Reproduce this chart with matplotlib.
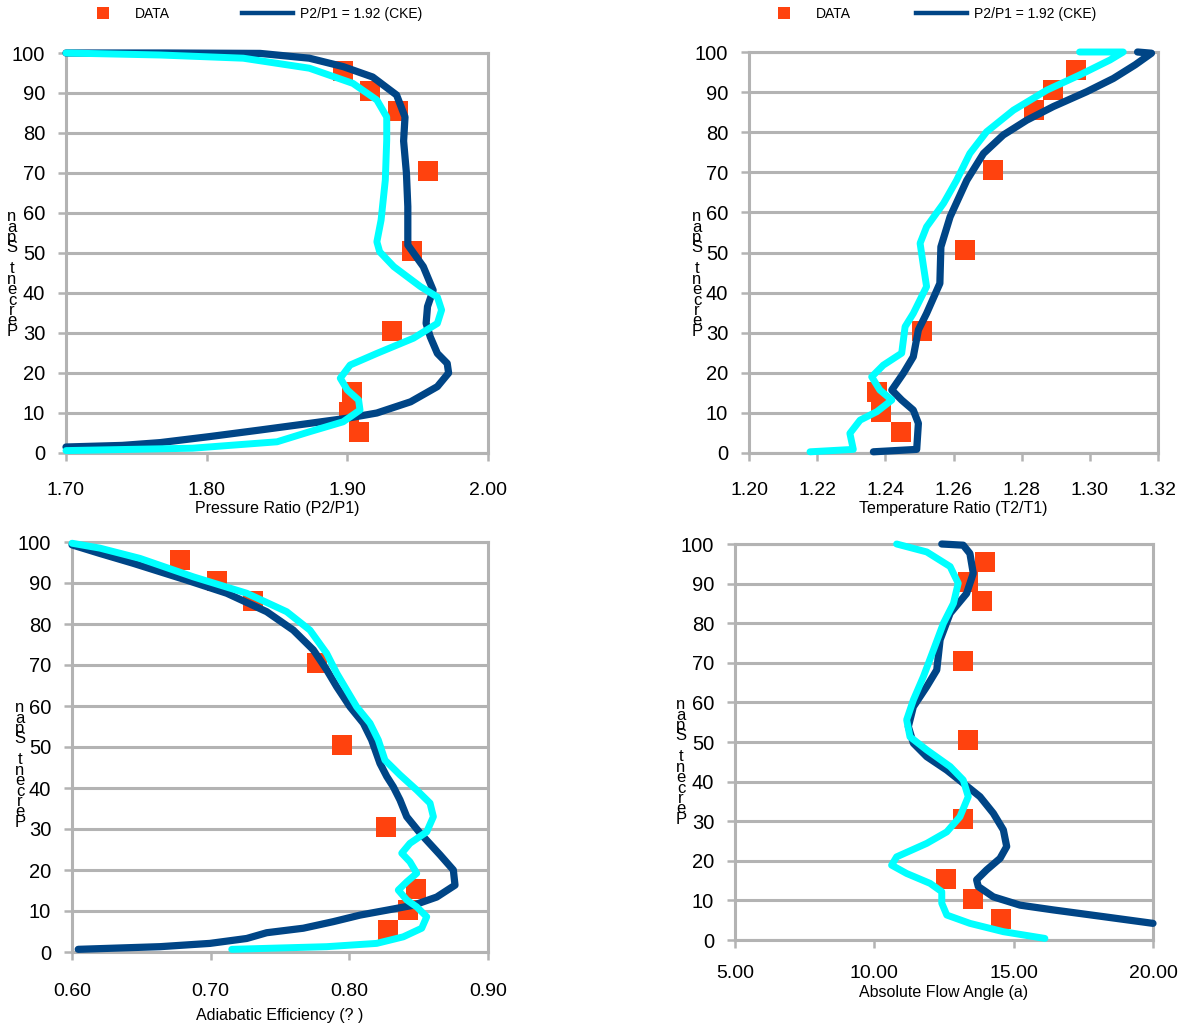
import matplotlib
matplotlib.use("Agg")
import matplotlib.pyplot as plt
from matplotlib.lines import Line2D

plt.rcParams['font.family'] = ['Liberation Sans', 'DejaVu Sans']

W, H = 1187, 1023
DARK = '#004586'
CYAN = '#00FFFF'
ORANGE = '#FF420E'
GRAY = '#b3b3b3'

# measured span of the data points (percent span)
span_data = [95.5, 90.5, 85.5, 70.5, 50.5, 30.5, 15.3, 10.3, 5.3]

# ---- pressure ratio ----
pr_data = [1.897, 1.916, 1.936, 1.957, 1.946, 1.932, 1.903, 1.901, 1.908]
pr_dark_x = [1.700, 1.740, 1.767, 1.802, 1.838, 1.873, 1.900, 1.921, 1.945, 1.964, 1.972, 1.971,
             1.964, 1.959, 1.956, 1.957, 1.961, 1.954, 1.943, 1.943, 1.942, 1.940, 1.941,
             1.935, 1.918, 1.897, 1.873, 1.838, 1.770, 1.700]
pr_dark_y = [1.5, 1.9, 2.6, 4.1, 5.75, 7.4, 8.7, 10.0, 12.8, 16.6, 20.0, 22.4,
             24.9, 29.0, 32.4, 36.6, 40.7, 46.6, 52.0, 61.6, 70.0, 78.0, 84.0,
             89.5, 94.0, 96.6, 98.7, 99.9, 100.0, 100.0]
pr_cyan_x = [1.700, 1.790, 1.850, 1.873, 1.897, 1.909, 1.908, 1.900, 1.895, 1.902, 1.921,
             1.947, 1.964, 1.967, 1.964, 1.952, 1.933, 1.923, 1.921, 1.924, 1.927, 1.928,
             1.928, 1.921, 1.904, 1.873, 1.826, 1.767, 1.700]
pr_cyan_y = [0.6, 1.2, 2.8, 5.3, 7.8, 10.75, 13.25, 15.75, 18.7, 22.0, 24.9,
             28.7, 32.4, 35.75, 39.0, 41.6, 46.6, 50.3, 52.8, 58.25, 68.25, 78.25,
             84.0, 88.25, 92.4, 96.2, 98.7, 99.5, 100.0]

# ---- temperature ratio ----
tr_data = [1.2959, 1.2893, 1.2835, 1.2717, 1.2634, 1.2507, 1.2377, 1.2387, 1.2446]
tr_dark_x = [1.2365, 1.2492, 1.2497, 1.2482, 1.2448, 1.2419, 1.2453, 1.2482, 1.2497, 1.2521,
             1.2560, 1.2563, 1.2590, 1.2639, 1.2688, 1.2746, 1.2815, 1.2893, 1.2991, 1.3069,
             1.3133, 1.3181, 1.3140]
tr_dark_y = [0.3, 0.9, 7.4, 10.7, 13.2, 15.7, 19.9, 24.0, 30.7, 34.8,
             42.3, 51.4, 58.9, 68.0, 74.7, 79.3, 83.0, 86.4, 90.1, 93.4,
             96.8, 99.7, 100.0]
tr_cyan_x = [1.2179, 1.2306, 1.2296, 1.2326, 1.2375, 1.2419, 1.2384, 1.2360, 1.2394, 1.2448,
             1.2458, 1.2482, 1.2521, 1.2512, 1.2502, 1.2521, 1.2571, 1.2609, 1.2648, 1.2697,
             1.2776, 1.2874, 1.2971, 1.3059, 1.3098, 1.2970]
tr_cyan_y = [0.3, 0.9, 4.9, 8.2, 10.3, 13.2, 15.7, 19.0, 21.9, 24.9,
             31.5, 34.8, 41.5, 46.5, 52.3, 56.4, 62.3, 68.0, 74.7, 80.1,
             85.5, 90.5, 94.3, 98.0, 100.0, 100.0]

# ---- adiabatic efficiency ----
ae_data = [0.6779, 0.7043, 0.7308, 0.7765, 0.7945, 0.8264, 0.8481, 0.8425, 0.8281]
ae_dark_x = [0.6045, 0.6635, 0.6995, 0.7260, 0.7404, 0.7668, 0.7884, 0.8077, 0.8270, 0.8461,
             0.8630, 0.8762, 0.8750, 0.8654, 0.8510, 0.8414, 0.8365, 0.8317, 0.8270, 0.8221,
             0.8161, 0.8101, 0.8005, 0.7909, 0.7837, 0.7740, 0.7596, 0.7404, 0.7116, 0.6827,
             0.6442, 0.6202, 0.6000]
ae_dark_y = [0.65, 1.3, 2.1, 3.3, 4.7, 5.8, 7.4, 9.0, 10.2, 11.4,
             13.4, 16.3, 20.0, 23.7, 29.0, 33.0, 37.1, 40.3, 42.8, 46.0,
             51.7, 55.8, 59.8, 64.7, 68.8, 73.7, 78.5, 83.0, 87.5, 90.7,
             94.8, 97.2, 99.3]
ae_cyan_x = [0.7152, 0.7837, 0.8197, 0.8389, 0.8522, 0.8558, 0.8486, 0.8414, 0.8353, 0.8414,
             0.8486, 0.8437, 0.8378, 0.8437, 0.8558, 0.8606, 0.8582, 0.8486, 0.8365, 0.8257,
             0.8209, 0.8149, 0.8053, 0.7981, 0.7909, 0.7837, 0.7716, 0.7548, 0.7260, 0.6875,
             0.6490, 0.6202, 0.6000]
ae_cyan_y = [0.65, 1.3, 2.1, 3.7, 5.8, 8.6, 11.0, 12.7, 15.1, 17.1,
             19.2, 22.0, 24.1, 26.5, 29.3, 33.0, 36.3, 39.5, 43.2, 46.8,
             51.7, 55.8, 59.8, 63.9, 68.0, 72.8, 78.5, 83.0, 87.5, 91.5,
             96.0, 98.5, 99.7]

# ---- absolute flow angle ----
fa_data = [13.97, 13.37, 13.85, 13.17, 13.35, 13.17, 12.57, 13.55, 14.55]
fa_dark_x = [20.00, 18.22, 16.42, 15.23, 14.27, 13.73, 13.67, 14.03, 14.51, 14.75,
             14.63, 14.27, 13.79, 13.19, 12.60, 11.88, 11.40, 11.22, 11.40, 11.88,
             12.24, 12.36, 12.72, 13.31, 13.55, 13.43, 13.19, 12.42]
fa_dark_y = [4.2, 5.9, 7.6, 8.8, 10.9, 13.5, 15.2, 17.7, 20.6, 23.6,
             27.8, 32.0, 36.2, 39.6, 42.9, 46.3, 49.7, 53.9, 58.9, 64.0,
             68.2, 75.8, 82.5, 87.5, 92.6, 97.6, 99.7, 100.0]
fa_cyan_x = [16.12, 14.63, 13.43, 12.60, 12.42, 12.42, 12.00, 11.16, 10.62, 10.80,
             11.88, 12.60, 13.07, 13.37, 13.19, 12.72, 11.88, 11.28, 11.16, 11.40,
             11.76, 12.12, 12.48, 12.84, 13.01, 12.72, 11.88, 10.80]
fa_cyan_y = [0.4, 2.1, 4.2, 6.3, 9.3, 12.2, 14.3, 16.8, 18.9, 21.0,
             24.4, 27.3, 31.1, 36.2, 40.4, 43.8, 48.0, 51.3, 55.6, 60.6,
             66.5, 73.2, 80.0, 85.0, 90.1, 94.3, 98.0, 100.0]

panels = [
    # box in pixels: left, right, top, bottom
    dict(box=(66, 488, 53, 453), xlim=(1.70, 2.00), xt=[1.70, 1.80, 1.90, 2.00],
         xlabel='Pressure Ratio (P2/P1)', data=pr_data,
         dark=(pr_dark_x, pr_dark_y), cyan=(pr_cyan_x, pr_cyan_y),
         ylab=(12, 274), leg=(77, 14, 5.2), xpad=(15, 1)),
    dict(box=(749, 1158, 52, 453), xlim=(1.20, 1.32),
         xt=[1.20, 1.22, 1.24, 1.26, 1.28, 1.30, 1.32],
         xlabel='Temperature Ratio (T2/T1)', data=tr_data,
         dark=(tr_dark_x, tr_dark_y), cyan=(tr_cyan_x, tr_cyan_y),
         ylab=(697, 274), leg=(758, 14, 4.7), xpad=(15, 1)),
    dict(box=(72, 488, 542, 952), xlim=(0.60, 0.90), xt=[0.60, 0.70, 0.80, 0.90],
         xlabel='Adiabatic Efficiency (? )', data=ae_data,
         dark=(ae_dark_x, ae_dark_y), cyan=(ae_cyan_x, ae_cyan_y),
         ylab=(20, 765), leg=None, xpad=(16, 6)),
    dict(box=(735, 1153, 544, 940), xlim=(5.0, 20.0), xt=[5.0, 10.0, 15.0, 20.0],
         xlabel='Absolute Flow Angle (a)', data=fa_data,
         dark=(fa_dark_x, fa_dark_y), cyan=(fa_cyan_x, fa_cyan_y),
         ylab=(681, 762), leg=None, xpad=(12, 2)),
]

fig = plt.figure(figsize=(W / 100, H / 100), dpi=100)

for p in panels:
    l, r, t, b = p['box']
    ax = fig.add_axes([l / W, 1 - b / H, (r - l) / W, (b - t) / H])
    ax.set_xlim(*p['xlim'])
    ax.set_ylim(0, 100)
    ax.set_xticks(p['xt'])
    ax.set_xticklabels(['%.2f' % v for v in p['xt']])
    ax.set_yticks(range(0, 101, 10))
    ax.yaxis.grid(True, color=GRAY, lw=2.2)
    ax.set_axisbelow(True)
    for s in ax.spines.values():
        s.set_color(GRAY)
        s.set_linewidth(2.2)
    ax.tick_params(axis='both', colors=GRAY, width=1.8, length=6, labelcolor='black',
                   labelsize=14.5)
    ax.tick_params(axis='y', pad=9)
    ax.tick_params(axis='x', pad=p['xpad'][0], labelsize=14)

    ax.plot(p['data'], span_data, ls='none', marker='s', ms=15, mew=0,
            color=ORANGE, zorder=3, clip_on=False)
    ax.plot(*p['dark'], color=DARK, lw=5.2, solid_capstyle='round',
            solid_joinstyle='round', zorder=4, clip_on=False)
    ax.plot(*p['cyan'], color=CYAN, lw=5.0, solid_capstyle='round',
            solid_joinstyle='round', zorder=5, clip_on=False)

    ax.set_xlabel(p['xlabel'], fontsize=11.5, labelpad=p['xpad'][1])

    # stacked y label as in the original export
    x0, yc = p['ylab']
    fig.text(x0 / W, 1 - yc / H, '\n'.join(reversed('Percent Span')),
             fontsize=12, linespacing=0.62, ha='center', va='center')

    if p['leg']:
        lx, ly, cs = p['leg']
        handles = [Line2D([], [], ls='none', marker='s', ms=8, mew=0, color=ORANGE),
                   Line2D([], [], color=DARK, lw=3.2)]
        fig.legend(handles, ['DATA', 'P2/P1 = 1.92 (CKE)'], loc='center left',
                   bbox_to_anchor=(lx / W, 1 - ly / H), bbox_transform=fig.transFigure,
                   ncol=2, frameon=False, fontsize=10, handlelength=3.7,
                   handletextpad=0.45, columnspacing=cs, borderpad=0, borderaxespad=0)

fig.savefig('out.png', dpi=100)
